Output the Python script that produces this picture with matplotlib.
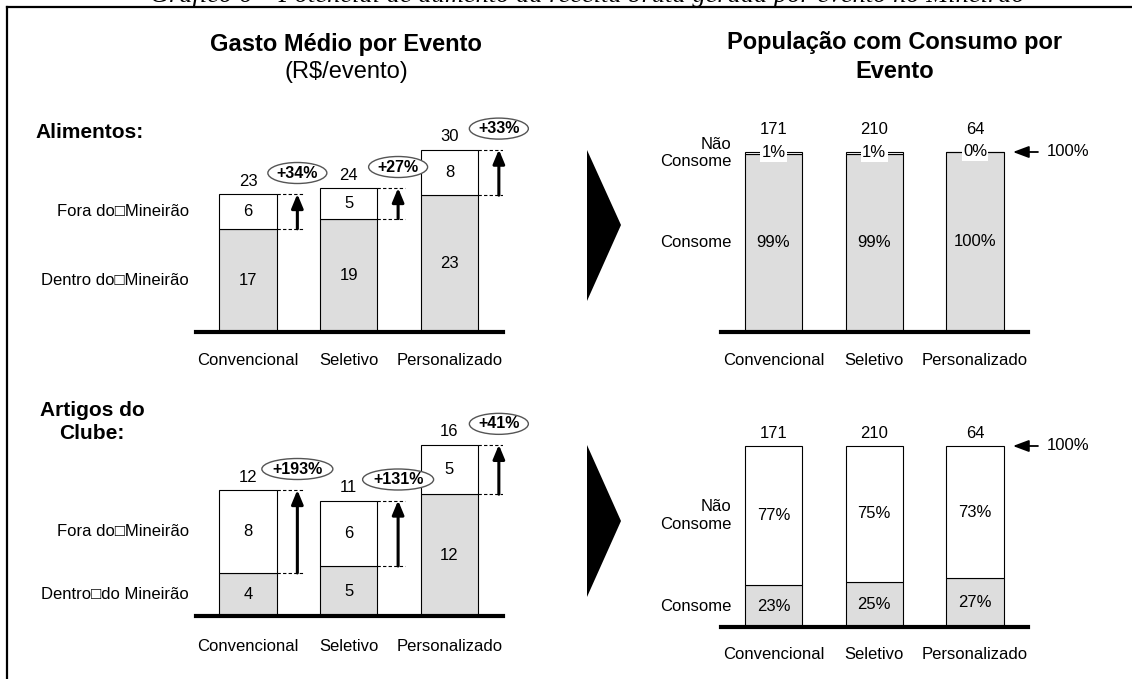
import numpy as np
import matplotlib
matplotlib.use('Agg')
import matplotlib.pyplot as plt
from matplotlib.patches import Ellipse, Polygon
from matplotlib.lines import Line2D
from matplotlib.transforms import Affine2D

categorias = ['Convencional', 'Seletivo', 'Personalizado']

# Gasto médio por evento (R$/evento)
alim_dentro = [17.2, 18.9, 22.8]
alim_fora = [5.8, 5.1, 7.6]
art_dentro = [4.1, 4.76, 11.6]
art_fora = [7.9, 6.24, 4.7]

# População com consumo por evento (%)
pop_total = [171, 210, 64]
alim_consome = [99, 99, 100]
alim_nao = [1, 1, 0]
art_consome = [23, 25, 27]
art_nao = [77, 75, 73]

W, H = 1132, 679
CINZA = '#DDDDDD'
LARG = 0.566
XLIM = (-0.52, 2.53)
PASSO = 100.75  # pixels entre categorias
TAM = 12

plt.rcParams['font.family'] = ['Liberation Sans', 'DejaVu Sans']

fig = plt.figure(figsize=(W / 100, H / 100), dpi=100)
px = Affine2D().scale(1 / W, -1 / H).translate(0, 1) + fig.transFigure


def eixo(esq, base, altura, esc, pad):
    ax = fig.add_axes([esq / W, (H - base) / H, (XLIM[1] - XLIM[0]) * PASSO / W, altura / H])
    ax.set_xlim(*XLIM)
    ax.set_ylim(0, altura / esc)
    for s in ['top', 'right', 'left']:
        ax.spines[s].set_visible(False)
    ax.spines['bottom'].set_linewidth(3)
    ax.spines['bottom'].set_zorder(5)
    ax.set_yticks([])
    ax.set_xticks(range(3), categorias, fontsize=TAM)
    ax.tick_params(axis='x', length=0, pad=pad)
    ax.patch.set_visible(False)
    return ax


def texto(ax, x, y, s, **kw):
    kw.setdefault('ha', 'center')
    ax.text(x, y, s, va='center', fontsize=TAM, **kw)


def gasto(ax, dentro, fora, esc, rot_fora, rot_dentro):
    x = np.arange(3)
    dentro = np.array(dentro)
    fora = np.array(fora)
    total = dentro + fora
    ax.bar(x, dentro, LARG, color=CINZA, edgecolor='black', linewidth=0.8)
    ax.bar(x, fora, LARG, bottom=dentro, color='white', edgecolor='black', linewidth=0.8)
    xs = x + 0.49
    for i in x:
        texto(ax, i, dentro[i] / 2, f'{dentro[i]:.0f}')
        texto(ax, i, dentro[i] + fora[i] / 2, f'{fora[i]:.0f}')
        texto(ax, i, total[i] + 13 / esc, f'{total[i]:.0f}')
        for nivel in (dentro[i], total[i]):
            ax.plot([i + LARG / 2, i + 0.56], [nivel, nivel], color='black',
                    lw=0.8, ls=(0, (3, 2)))
        ax.annotate('', xy=(xs[i], total[i]), xytext=(xs[i], dentro[i]),
                    arrowprops=dict(arrowstyle='-|>,head_length=0.6,head_width=0.25',
                                    lw=2.2, color='black', shrinkA=0, shrinkB=0,
                                    mutation_scale=14))
        rot = f'+{fora[i] / dentro[i] * 100:.0f}%'
        yc = total[i] + 21 / esc
        ax.add_patch(Ellipse((xs[i], yc), (len(rot) * 12 + 11) / PASSO, 21 / esc,
                             fc='white', ec='#555555', lw=1, clip_on=False, zorder=3))
        ax.text(xs[i], yc, rot, ha='center', va='center', fontsize=TAM - 0.5,
                weight='bold', zorder=4)
    texto(ax, -0.585, dentro[0] + fora[0] / 2, rot_fora, ha='right')
    texto(ax, -0.585, dentro[0] / 2, rot_dentro, ha='right')


def populacao(ax, consome, nao, esc, dy_total):
    x = np.arange(3)
    ax.bar(x, consome, LARG, color=CINZA, edgecolor='black', linewidth=0.8)
    ax.bar(x, nao, LARG, bottom=consome, color='white', edgecolor='black', linewidth=0.8)
    for i in x:
        texto(ax, i, consome[i] / 2, f'{consome[i]}%')
        caixa = dict(fc='white', ec='none', pad=1) if nao[i] < 5 else None
        ax.text(i, consome[i] + nao[i] / 2, f'{nao[i]}%', ha='center', va='center',
                fontsize=TAM, bbox=caixa, zorder=4)
        texto(ax, i, 100 + dy_total / esc, str(pop_total[i]))
    ax.annotate('', xy=(2.377, 100), xytext=(2.625, 100), annotation_clip=False,
                arrowprops=dict(arrowstyle='-|>,head_length=0.8,head_width=0.3',
                                lw=1.3, color='black', shrinkA=0, shrinkB=0,
                                mutation_scale=12))
    texto(ax, 2.714, 100, '100%', ha='left')
    ax.text(-0.42, consome[0] + nao[0] / 2, 'Não\nConsome', ha='right', va='center',
            multialignment='right', fontsize=TAM)
    texto(ax, -0.42, consome[0] / 2, 'Consome', ha='right')


ax1 = eixo(195.6, 332, 212, 6.0, pad=15)
gasto(ax1, alim_dentro, alim_fora, 6.0, 'Fora do□Mineirão', 'Dentro do□Mineirão')

ax2 = eixo(721.1, 332, 212, 1.8, pad=15)
populacao(ax2, alim_consome, alim_nao, 1.8, 22)

ax3 = eixo(195.6, 616, 200, 10.5, pad=16.5)
gasto(ax3, art_dentro, art_fora, 10.5, 'Fora do□Mineirão', 'Dentro□do Mineirão')

ax4 = eixo(721.1, 627, 200, 1.81, pad=14.5)
populacao(ax4, art_consome, art_nao, 1.81, 13)

# títulos e rótulos das seções
fig.text(346, 45, 'Gasto Médio por Evento', transform=px, ha='center', va='center',
         fontsize=17, weight='bold')
fig.text(346, 72, '(R$/evento)', transform=px, ha='center', va='center', fontsize=17)
fig.text(895, 43, 'População com Consumo por', transform=px, ha='center', va='center',
         fontsize=17, weight='bold')
fig.text(895, 72, 'Evento', transform=px, ha='center', va='center',
         fontsize=17, weight='bold')
fig.text(35, 132, 'Alimentos:', transform=px, ha='left', va='center',
         fontsize=15, weight='bold')
fig.text(92, 422, 'Artigos do\nClube:', transform=px, ha='center', va='center',
         multialignment='center', linespacing=1.3, fontsize=15, weight='bold')

# setas grandes entre os painéis
for topo, ponta, fundo in [(150, 225, 301), (445, 521, 597)]:
    fig.add_artist(Polygon([(587, topo), (621, ponta), (587, fundo)], closed=True,
                           fc='black', ec='none', transform=px))

# moldura e legenda do gráfico
fig.add_artist(Line2D([7, 1132], [7, 7], lw=1.6, color='black', transform=px))
fig.add_artist(Line2D([7, 7], [7, 679], lw=1.6, color='black', transform=px))
fig.text(150, 2, 'Gráfico 6 – Potencial de aumento da receita bruta gerada por evento no Mineirão',
         transform=px, ha='left', va='baseline', fontsize=19,
         family='Liberation Serif', style='italic')

fig.savefig('out.png', dpi=100)
